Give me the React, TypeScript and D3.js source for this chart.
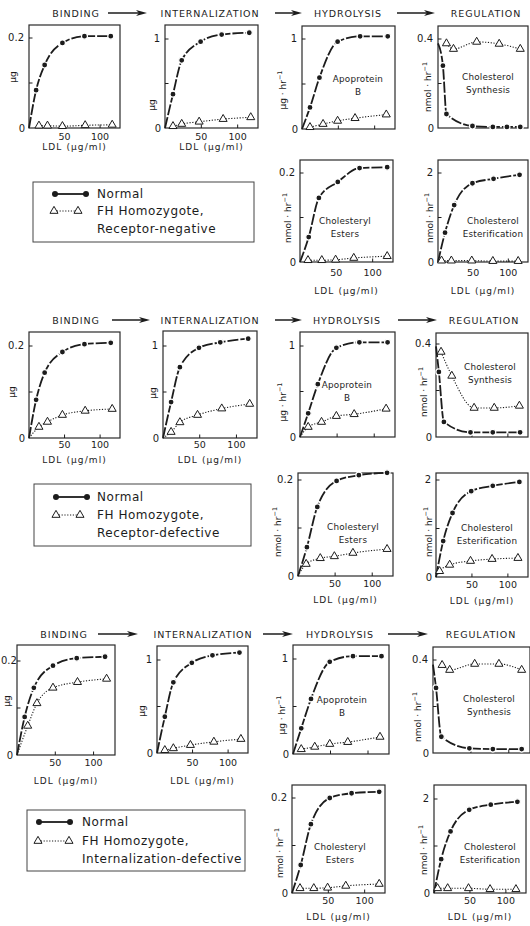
import React from 'react';
import * as d3 from 'd3';

const INK = '#1c1c1c';
const FONT = '"DejaVu Sans", "Liberation Sans", sans-serif';

// ---------- DATA ----------
// LDL concentrations (µg/ml) of the plotted points
const ldlBinding = [10, 22, 47, 78, 115];
const ldlBindingFH = [14, 26, 47, 79, 117];
const ldlInternal = [11, 23, 49, 78, 116];
const ldlInternalFH = [11, 23, 47, 80, 118];
const ldlApoB = [11, 24, 49, 80, 118];
const ldlApoBFH = [11, 29, 49, 73, 116];
const ldlSynthRow1 = [7, 12, 49, 78, 98, 117];
const ldlSynth = [4, 11, 48, 79, 117];
const ldlSynthFH = [12, 22, 55, 87, 117];
const ldlSynthFHRow2 = [7, 22, 53, 81, 116];
const ldlEsters = [12, 26, 52, 82, 120];
const ldlEstersFH = [11, 30, 49, 74, 120];
const ldlEsterif = [10, 23, 49, 79, 116];
const ldlEsterifFH = [5, 19, 48, 78, 114];

// Row 1: receptor-negative
const negBindN = [0.084, 0.14, 0.189, 0.204, 0.204];
const negBindFH = [0.005, 0.005, 0.004, 0.006, 0.007];
const negIntN = [0.38, 0.76, 0.97, 1.05, 1.07];
const negIntFH = [0.02, 0.045, 0.07, 0.1, 0.12];
const negApoN = [0.24, 0.57, 0.97, 1.03, 1.03];
const negApoFH = [0.02, 0.055, 0.09, 0.12, 0.16];
const negSynN = [0.28, 0.063, 0.009, 0.005, 0.005, 0.005];
const negSynFH = [0.38, 0.355, 0.387, 0.378, 0.355];
const negEstN = [0.056, 0.144, 0.18, 0.211, 0.213];
const negEstFH = [0.004, 0.004, 0.005, 0.009, 0.013];
const negEsfN = [0.66, 1.28, 1.77, 1.87, 1.96];
const negEsfFH = [0.03, 0.03, 0.03, 0.02, 0.02];

// Row 2: receptor-defective
const defBindN = [0.083, 0.142, 0.187, 0.204, 0.207];
const defBindFH = [0.024, 0.035, 0.05, 0.059, 0.063];
const defIntN = [0.39, 0.77, 0.98, 1.04, 1.08];
const defIntFH = [0.065, 0.17, 0.25, 0.32, 0.37];
const defApoN = [0.26, 0.58, 0.98, 1.04, 1.04];
const defApoFH = [0.11, 0.165, 0.23, 0.25, 0.31];
const defSynN = [0.28, 0.065, 0.02, 0.02, 0.02];
const defSynFH = [0.366, 0.263, 0.125, 0.125, 0.134];
const defEstN = [0.06, 0.144, 0.198, 0.21, 0.215];
const defEstFH = [0.025, 0.037, 0.041, 0.048, 0.056];
const defEsfN = [0.74, 1.32, 1.77, 1.88, 1.96];
const defEsfFH = [0.12, 0.25, 0.33, 0.37, 0.39];

// Row 3: internalization-defective
const intBindN = [0.081, 0.143, 0.19, 0.206, 0.209];
const intBindFH = [0.062, 0.11, 0.143, 0.155, 0.162];
const intIntN = [0.39, 0.76, 0.97, 1.05, 1.08];
const intIntFH = [0.03, 0.05, 0.085, 0.12, 0.15];
const intApoN = [0.27, 0.58, 0.97, 1.03, 1.03];
const intApoFH = [0.05, 0.075, 0.105, 0.125, 0.18];
const intSynN = [0.28, 0.07, 0.02, 0.017, 0.017];
const intSynFH = [0.378, 0.357, 0.383, 0.383, 0.357];
const intEstN = [0.059, 0.145, 0.2, 0.21, 0.213];
const intEstFH = [0.01, 0.01, 0.011, 0.015, 0.019];
const intEsfN = [0.72, 1.31, 1.77, 1.88, 1.94];
const intEsfFH = [0.1, 0.1, 0.1, 0.08, 0.08];

// control synthesis rate at LDL 0 (start of normal curve)
const synthStart = [0.38, 0.39, 0.38];

const titleLabels = ['BINDING', 'INTERNALIZATION', 'HYDROLYSIS', 'REGULATION'];
const legendKinds = ['Receptor-negative', 'Receptor-defective', 'Internalization-defective'];
const xTicks = [50, 100];
const topTicks = [0.2, 1, 1, 0.4, 0.2, 2];
const topTickLabels = ['0.2', '1', '1', '0.4', '0.2', '2'];
const units = ['ug', 'ug', 'ughr', 'nmolhr', 'nmolhr', 'nmolhr'];
const innerLabels: (string[] | null)[] = [null, null, ['Apoprotein', 'B'], ['Cholesterol', 'Synthesis'], ['Cholesteryl', 'Esters'], ['Cholesterol', 'Esterification']];

// ---------- LAYOUT ----------
type Geo = { x: number; y: number; w: number; h: number; tickY: number; ylx: number; yly: number; xl?: number; ldl?: number; ix: number; iy: number; tlStart?: number };

const rowLayout = [
  {
    titleY: 17, titleX: [76, 210, 348, 486], arrows: [[108, 147], [275, 302], [397, 435]],
    legend: { x: 33, y: 182, w: 221, h: 60, rows: [194, 211, 229], cx: [55, 86], tx: [54, 78], textX: 97 },
    geo: [
      { x: 29, y: 25, w: 91, h: 103, tickY: 38, ylx: 13, yly: 77, xl: 12, ldl: 22, ix: 0, iy: 0 },
      { x: 165, y: 25, w: 93, h: 103, tickY: 39, ylx: 152, yly: 105, xl: 12, ldl: 22, ix: 0, iy: 0 },
      { x: 302, y: 26, w: 93, h: 103, tickY: 39, ylx: 283, yly: 90, ix: 358, iy: 79 },
      { x: 438, y: 26, w: 90, h: 102, tickY: 39, ylx: 428, yly: 87, ix: 488, iy: 77 },
      { x: 300, y: 160, w: 93, h: 102, tickY: 173, ylx: 288, yly: 218, xl: 14, ldl: 32, ix: 345, iy: 221 },
      { x: 438, y: 160, w: 90, h: 102, tickY: 173, ylx: 430, yly: 218, xl: 14, ldl: 32, ix: 493, iy: 221 },
    ] as Geo[],
  },
  {
    titleY: 324, titleX: [76, 210, 347, 484], arrows: [[112, 150], [275, 302], [398, 437]],
    legend: { x: 34, y: 484, w: 217, h: 62, rows: [497, 515, 533], cx: [56, 87], tx: [56, 80], textX: 97 },
    geo: [
      { x: 29, y: 332, w: 91, h: 106, tickY: 346, ylx: 12, yly: 392, xl: 10, ldl: 25, ix: 0, iy: 0 },
      { x: 163, y: 331, w: 94, h: 107, tickY: 346, ylx: 153, yly: 393, xl: 10, ldl: 25, ix: 0, iy: 0 },
      { x: 300, y: 332, w: 95, h: 105, tickY: 346, ylx: 283, yly: 402, ix: 347, iy: 385 },
      { x: 436, y: 333, w: 92, h: 104, tickY: 344, ylx: 424, yly: 392, ix: 490, iy: 367 },
      { x: 298, y: 473, w: 95, h: 103, tickY: 480, ylx: 278, yly: 532, xl: 11, ldl: 27, ix: 353, iy: 527 },
      { x: 436, y: 473, w: 92, h: 104, tickY: 480, ylx: 429, yly: 532, xl: 11, ldl: 27, ix: 487, iy: 528 },
    ] as Geo[],
  },
  {
    titleY: 638, titleX: [64, 203, 340, 481], arrows: [[98, 138], [263, 293], [388, 428]],
    legend: { x: 27, y: 810, w: 218, h: 61, rows: [822, 841, 859], cx: [39, 70], tx: [38, 69], textX: 82 },
    geo: [
      { x: 17, y: 645, w: 98, h: 110, tickY: 661, ylx: 7, yly: 701, xl: 11, ldl: 29, ix: 0, iy: 0, tlStart: 1 },
      { x: 157, y: 646, w: 91, h: 107, tickY: 660, ylx: 142, yly: 711, xl: 13, ldl: 31, ix: 0, iy: 0 },
      { x: 293, y: 645, w: 96, h: 109, tickY: 659, ylx: 282, yly: 715, ix: 342, iy: 700 },
      { x: 433, y: 647, w: 97, h: 106, tickY: 660, ylx: 418, yly: 717, ix: 489, iy: 699 },
      { x: 292, y: 785, w: 93, h: 108, tickY: 798, ylx: 280, yly: 853, xl: 11, ldl: 27, ix: 340, iy: 847 },
      { x: 434, y: 785, w: 92, h: 108, tickY: 799, ylx: 424, yly: 850, xl: 11, ldl: 27, ix: 490, iy: 847 },
    ] as Geo[],
  },
];

type Series = { nx: number[]; ny: number[]; fx: number[]; fy: number[]; nStart: number; fStart: number | null };

const rowSeries: Series[][] = [
  [
    { nx: ldlBinding, ny: negBindN, fx: ldlBindingFH, fy: negBindFH, nStart: 0, fStart: null },
    { nx: ldlInternal, ny: negIntN, fx: ldlInternalFH, fy: negIntFH, nStart: 0, fStart: null },
    { nx: ldlApoB, ny: negApoN, fx: ldlApoBFH, fy: negApoFH, nStart: 0, fStart: null },
    { nx: ldlSynthRow1, ny: negSynN, fx: ldlSynthFH, fy: negSynFH, nStart: synthStart[0], fStart: null },
    { nx: ldlEsters, ny: negEstN, fx: ldlEstersFH, fy: negEstFH, nStart: 0, fStart: null },
    { nx: ldlEsterif, ny: negEsfN, fx: ldlEsterifFH, fy: negEsfFH, nStart: 0, fStart: null },
  ],
  [
    { nx: ldlBinding, ny: defBindN, fx: ldlBindingFH, fy: defBindFH, nStart: 0, fStart: 0 },
    { nx: ldlInternal, ny: defIntN, fx: ldlInternalFH, fy: defIntFH, nStart: 0, fStart: 0 },
    { nx: ldlApoB, ny: defApoN, fx: ldlApoBFH, fy: defApoFH, nStart: 0, fStart: 0 },
    { nx: ldlSynth, ny: defSynN, fx: ldlSynthFHRow2, fy: defSynFH, nStart: synthStart[1], fStart: null },
    { nx: ldlEsters, ny: defEstN, fx: ldlEstersFH, fy: defEstFH, nStart: 0, fStart: 0 },
    { nx: ldlEsterif, ny: defEsfN, fx: ldlEsterifFH, fy: defEsfFH, nStart: 0, fStart: 0 },
  ],
  [
    { nx: ldlBinding, ny: intBindN, fx: ldlBindingFH, fy: intBindFH, nStart: 0, fStart: 0 },
    { nx: ldlInternal, ny: intIntN, fx: ldlInternalFH, fy: intIntFH, nStart: 0, fStart: null },
    { nx: ldlApoB, ny: intApoN, fx: ldlApoBFH, fy: intApoFH, nStart: 0, fStart: null },
    { nx: ldlSynth, ny: intSynN, fx: ldlSynthFH, fy: intSynFH, nStart: synthStart[2], fStart: null },
    { nx: ldlEsters, ny: intEstN, fx: ldlEstersFH, fy: intEstFH, nStart: 0, fStart: null },
    { nx: ldlEsterif, ny: intEsfN, fx: ldlEsterifFH, fy: intEsfFH, nStart: 0, fStart: null },
  ],
];

const triPath = d3.symbol().type(d3.symbolTriangle).size(28)() as string;

function YLabel({ x, y, unit }: { x: number; y: number; unit: string }) {
  return (
    <text transform={`translate(${x},${y}) rotate(-90)`} textAnchor="middle" dominantBaseline="middle" fontSize={9} fill={INK}>
      {unit === 'ug' ? 'μg' : (
        <>
          {unit === 'ughr' ? 'μg · hr' : 'nmol · hr'}
          <tspan dy={-3} fontSize={6.5}>−1</tspan>
        </>
      )}
    </text>
  );
}

function Panel({ g, s, idx }: { g: Geo; s: Series; idx: number }) {
  const tick = topTicks[idx];
  const xs = d3.scaleLinear().domain([0, 128]).range([g.x, g.x + g.w]);
  const ys = d3.scaleLinear().domain([0, tick]).range([g.y + g.h, g.tickY]);
  const line = d3.line<[number, number]>().x(d => xs(d[0])).y(d => ys(d[1])).curve(d3.curveMonotoneX);
  const nPts: [number, number][] = s.nx.map((v, i) => [v, s.ny[i]]);
  const fPts: [number, number][] = s.fx.map((v, i) => [v, s.fy[i]]);
  const nPath = line([[0, s.nStart], ...nPts]) || '';
  const fPath = line(s.fStart === null ? fPts : [[0, s.fStart], ...fPts]) || '';
  const bottom = g.y + g.h;
  const inner = innerLabels[idx];
  return (
    <g>
      <rect x={g.x} y={g.y} width={g.w} height={g.h} fill="none" stroke="#2a2a2a" strokeWidth={1.2} />
      {[tick / 2, tick].map((t, i) => (
        <line key={i} x1={g.x} x2={g.x + 3.5} y1={ys(t)} y2={ys(t)} stroke={INK} strokeWidth={1} />
      ))}
      {xTicks.map(t => (
        <line key={t} x1={xs(t)} x2={xs(t)} y1={bottom} y2={bottom - 3.5} stroke={INK} strokeWidth={1} />
      ))}
      {g.tlStart !== undefined ? (
        <text x={g.tlStart} y={g.tickY} textAnchor="start" dominantBaseline="middle" fontSize={10} fill={INK}>{topTickLabels[idx]}</text>
      ) : (
        <text x={g.x - 5} y={g.tickY} textAnchor="end" dominantBaseline="middle" fontSize={10} fill={INK}>{topTickLabels[idx]}</text>
      )}
      <text x={g.x - 4} y={bottom + 1} textAnchor="end" dominantBaseline="middle" fontSize={10} fill={INK}>0</text>
      {g.xl !== undefined && xTicks.map(t => (
        <text key={t} x={xs(t)} y={bottom + g.xl!} textAnchor="middle" fontSize={9.5} fill={INK}>{t}</text>
      ))}
      {g.ldl !== undefined && (
        <text x={g.x + g.w / 2} y={bottom + g.ldl} textAnchor="middle" fontSize={9} letterSpacing={1.1} fill={INK}>LDL (μg/ml)</text>
      )}
      <YLabel x={g.ylx} y={g.yly} unit={units[idx]} />
      {inner && inner.map((t, i) => (
        <text key={i} x={g.ix} y={g.iy + i * 13} textAnchor="middle" dominantBaseline="middle" fontSize={8.8} letterSpacing={0.2} fill={INK}>{t}</text>
      ))}
      <path d={fPath} fill="none" stroke={INK} strokeWidth={1.1} strokeDasharray="1.2 1.6" />
      <path d={nPath} fill="none" stroke={INK} strokeWidth={1.8} strokeDasharray="11 2" />
      {fPts.map((p, i) => (
        <path key={i} d={triPath} transform={`translate(${xs(p[0])},${ys(p[1])})`} fill="white" stroke={INK} strokeWidth={1} />
      ))}
      {nPts.map((p, i) => (
        <circle key={i} cx={xs(p[0])} cy={ys(p[1])} r={3} fill={INK} stroke="white" strokeWidth={1.2} />
      ))}
    </g>
  );
}

function Arrow({ x1, x2, y }: { x1: number; x2: number; y: number }) {
  return (
    <g>
      <line x1={x1} x2={x2 - 6} y1={y} y2={y} stroke={INK} strokeWidth={1.5} />
      <path d={`M${x2},${y} L${x2 - 11},${y - 3} L${x2 - 8},${y} L${x2 - 11},${y + 3} Z`} fill={INK} />
    </g>
  );
}

function Legend({ L, kind }: { L: any; kind: string }) {
  const [r1, r2, r3] = L.rows;
  const ts = { fontSize: 12, letterSpacing: 0.55, fill: INK } as any;
  return (
    <g>
      <rect x={L.x} y={L.y} width={L.w} height={L.h} fill="none" stroke="#444" strokeWidth={1} />
      <line x1={L.cx[0]} x2={L.cx[1]} y1={r1} y2={r1} stroke={INK} strokeWidth={1.8} />
      {L.cx.map((c: number, i: number) => <circle key={i} cx={c} cy={r1} r={3} fill={INK} />)}
      <line x1={L.tx[0]} x2={L.tx[1]} y1={r2} y2={r2} stroke={INK} strokeWidth={1} strokeDasharray="1.2 1.6" />
      {L.tx.map((c: number, i: number) => (
        <path key={i} d={triPath} transform={`translate(${c},${r2})`} fill="white" stroke={INK} strokeWidth={1} />
      ))}
      <text x={L.textX} y={r1} dominantBaseline="middle" {...ts}>Normal</text>
      <text x={L.textX} y={r2} dominantBaseline="middle" {...ts}>FH Homozygote,</text>
      <text x={L.textX} y={r3} dominantBaseline="middle" {...ts}>{kind}</text>
    </g>
  );
}

export default function App() {
  return (
    <svg width={530} height={926} style={{ position: 'absolute', left: 0, top: 0, background: 'white' }} fontFamily={FONT}>
      <rect x={0} y={0} width={530} height={926} fill="white" />
      {rowLayout.map((R, ri) => (
        <g key={ri}>
          {titleLabels.map((t, i) => (
            <text key={t} x={R.titleX[i]} y={R.titleY} textAnchor="middle" fontSize={9.5} letterSpacing={0.9} fill={INK}>{t}</text>
          ))}
          {R.arrows.map((a, i) => <Arrow key={i} x1={a[0]} x2={a[1]} y={R.titleY - 4} />)}
          {R.geo.map((g, pi) => <Panel key={pi} g={g} s={rowSeries[ri][pi]} idx={pi} />)}
          <Legend L={R.legend} kind={legendKinds[ri]} />
        </g>
      ))}
    </svg>
  );
}
